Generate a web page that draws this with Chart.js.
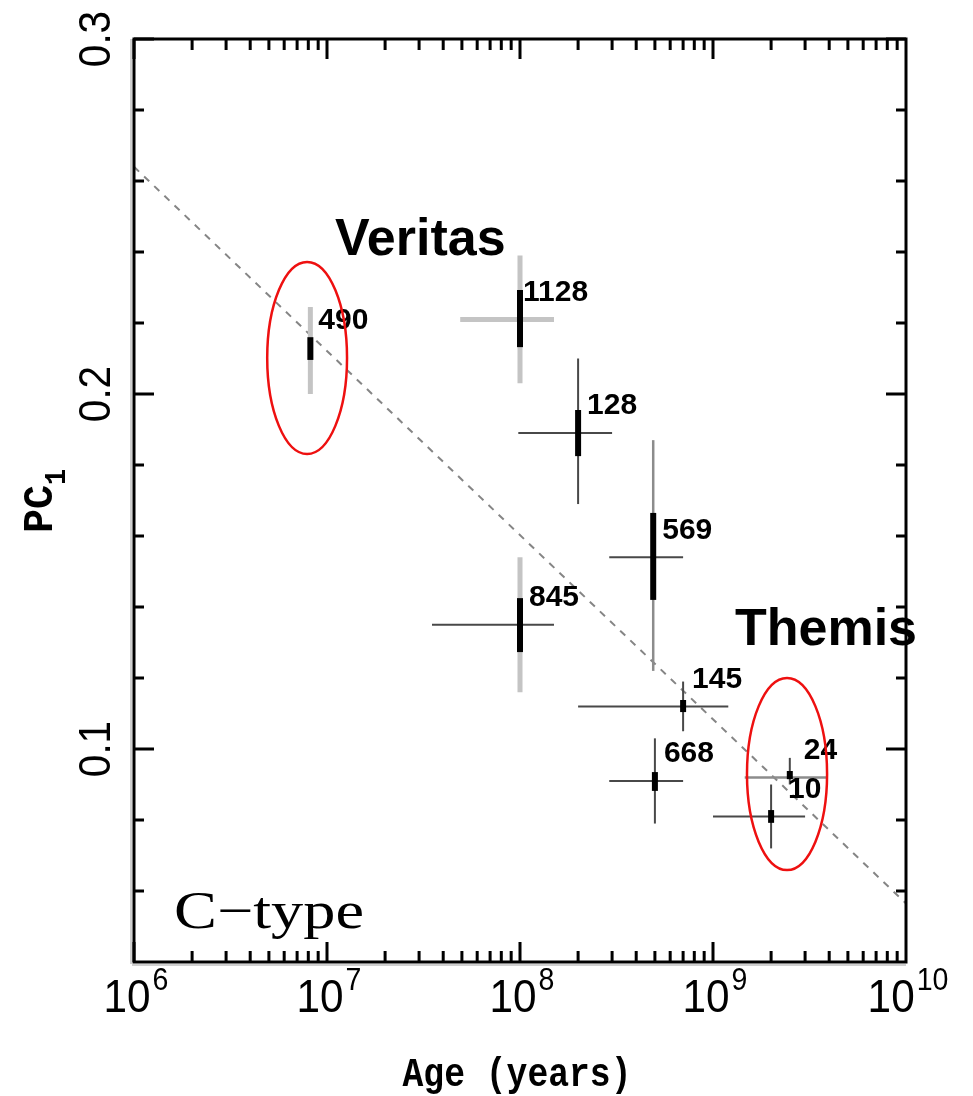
<!DOCTYPE html>
<html>
<head>
<meta charset="utf-8">
<script src="https://cdn.jsdelivr.net/npm/chart.js@4.4.0/dist/chart.umd.min.js"></script>
<style>
html,body{margin:0;padding:0;background:#fff;}
canvas{display:block;}
</style>
</head>
<body>
<canvas id="pc1-age" width="973" height="1096"></canvas>
<script>
// PC1 against family age for C-type asteroid families

const families   = ['490','1128','128','569','845','145','668','24','10'];
const ages       = [8.2e6, 1.0e8, 2.0e8, 4.9e8, 1.0e8, 7.0e8, 5.0e8, 2.5e9, 2.0e9];
const ageLow     = [null, 4.9e7, 9.8e7, 2.9e8, 3.5e7, 2.0e8, 2.9e8, 1.46e9, 1.0e9];
const ageHigh    = [null, 1.5e8, 3.0e8, 7.0e8, 1.5e8, 1.2e9, 7.0e8, 3.9e9, 3.0e9];
const pc1        = [0.213, 0.221, 0.189, 0.154, 0.135, 0.112, 0.091, 0.092, 0.081];
// thin bar = full spread, thick bar = error of the mean
const pc1Low     = [0.200, 0.203, 0.169, 0.122, 0.116, 0.105, 0.079, 0.090, 0.072];
const pc1High    = [0.2245, 0.239, 0.210, 0.187, 0.154, 0.119, 0.103, 0.0975, 0.090];
const pc1SigLow  = [0.2096, 0.2132, 0.1825, 0.142, 0.1273, 0.1104, 0.0882, 0.0915, 0.0792];
const pc1SigHigh = [0.216, 0.2293, 0.1955, 0.1665, 0.1425, 0.1138, 0.0935, 0.0938, 0.0828];

const fitAges = [1e6, 1e10];
const fitPc1  = [0.264, 0.0565];

const xTicks    = [1e6, 1e7, 1e8, 1e9, 1e10];
const xTickExp  = ['6','7','8','9','10'];
const yTicks    = [0.1, 0.2, 0.3];
const yTickText = ['0.1','0.2','0.3'];

// highlighted groups (red ellipses)
const groups       = ['Veritas','Themis'];
const groupAgeLow  = [4.9e6, 1.5e9];
const groupAgeHigh = [1.27e7, 3.9e9];
const groupPcLow   = [0.1831, 0.0659];
const groupPcHigh  = [0.2372, 0.120];
const groupTextAge = [1.1e7, 1.3e9];
const groupTextPc  = [0.2392, 0.1293];

// styles, kept apart from the values
const vStyle  = ['light','light','dark','mid','light','dark','dark','dark','dark'];
const hStyle  = [null,'light','dark','dark','dark','dark','dark','mid','dark'];
const labelDx = [8, 3, 9, 9, 9, 9, 9, 14, 17];
const barStyles = {
    light: {color:'#c4c4c4', width:5},
    mid:   {color:'#8c8c8c', width:2.5},
    dark:  {color:'#484848', width:2}
};

function fitText(ctx, txt, x, y, font, sx, align){
    ctx.save();
    ctx.font = font;
    ctx.textAlign = align || 'left';
    ctx.textBaseline = 'alphabetic';
    ctx.translate(x, y);
    ctx.scale(sx || 1, 1);
    ctx.fillText(txt, 0, 0);
    ctx.restore();
}

const errorBars = {
    id: 'errorBars',
    afterDatasetsDraw(chart){
        const ctx = chart.ctx, xs = chart.scales.x, ys = chart.scales.y;
        ctx.save();
        ctx.lineCap = 'butt';
        families.forEach((name, i)=>{
            const px = xs.getPixelForValue(ages[i]);
            const py = ys.getPixelForValue(pc1[i]);
            // horizontal age range
            if(hStyle[i]){
                const st = barStyles[hStyle[i]];
                ctx.strokeStyle = st.color; ctx.lineWidth = st.width;
                ctx.beginPath();
                ctx.moveTo(xs.getPixelForValue(ageLow[i]), py);
                ctx.lineTo(xs.getPixelForValue(ageHigh[i]), py);
                ctx.stroke();
            }
            // thin vertical range
            const vs = barStyles[vStyle[i]];
            ctx.strokeStyle = vs.color; ctx.lineWidth = vs.width;
            ctx.beginPath();
            ctx.moveTo(px, ys.getPixelForValue(pc1Low[i]));
            ctx.lineTo(px, ys.getPixelForValue(pc1High[i]));
            ctx.stroke();
            // thick black core
            ctx.strokeStyle = '#000'; ctx.lineWidth = 6;
            ctx.beginPath();
            ctx.moveTo(px, ys.getPixelForValue(pc1SigLow[i]));
            ctx.lineTo(px, ys.getPixelForValue(pc1SigHigh[i]));
            ctx.stroke();
            // family number
            ctx.fillStyle = '#000';
            ctx.font = 'bold 30px "Liberation Sans", Arial, sans-serif';
            ctx.textBaseline = 'middle';
            ctx.textAlign = 'left';
            ctx.fillText(name, px + labelDx[i], py - 27);
        });
        // red ellipses
        ctx.strokeStyle = '#ee1010'; ctx.lineWidth = 2.5;
        groups.forEach((g, i)=>{
            const x1 = xs.getPixelForValue(groupAgeLow[i]), x2 = xs.getPixelForValue(groupAgeHigh[i]);
            const y1 = ys.getPixelForValue(groupPcHigh[i]), y2 = ys.getPixelForValue(groupPcLow[i]);
            ctx.beginPath();
            ctx.ellipse((x1+x2)/2, (y1+y2)/2, (x2-x1)/2, (y2-y1)/2, 0, 0, Math.PI*2);
            ctx.stroke();
        });
        ctx.restore();
    }
};

const frameAndAxes = {
    id: 'frameAndAxes',
    afterDraw(chart){
        const ctx = chart.ctx, xs = chart.scales.x, ys = chart.scales.y;
        const a = chart.chartArea;
        ctx.save();

        // faint shadow next to the frame
        ctx.fillStyle = '#d0d0d0';
        ctx.fillRect(a.left - 4, a.top, 2, a.bottom - a.top + 2);
        ctx.fillRect(a.left - 2, a.bottom + 2, a.right - a.left + 2, 2);

        ctx.strokeStyle = '#000'; ctx.lineWidth = 3;
        ctx.strokeRect(a.left, a.top, a.right - a.left, a.bottom - a.top);

        ctx.fillStyle = '#000';
        // x ticks (log, with minors), bottom and top, pointing inward
        for(let e = 6; e < 10; e++){
            for(let k = 1; k < 10; k++){
                const v = k * Math.pow(10, e);
                const px = xs.getPixelForValue(v);
                const len = k === 1 ? 20 : 11;
                ctx.fillRect(px - 1.5, a.bottom - len, 3, len);
                ctx.fillRect(px - 1.5, a.top, 3, len);
            }
        }
        // y ticks every 0.02, majors every 0.1
        for(let j = 3; j <= 15; j++){
            const v = j * 0.02;
            const py = ys.getPixelForValue(v);
            const major = (j % 5 === 0);
            const len = major ? 20 : 10;
            ctx.fillRect(a.left, py - 1.5, len, 3);
            ctx.fillRect(a.right - len, py - 1.5, len, 3);
        }

        // x tick labels 10^n
        xTicks.forEach((v, i)=>{
            const px = xs.getPixelForValue(v);
            ctx.font = '47px "Liberation Sans", Arial, sans-serif';
            const wBase = ctx.measureText('10').width * 0.9;
            ctx.font = '31px "Liberation Sans", Arial, sans-serif';
            const wExp = ctx.measureText(xTickExp[i]).width * 0.92;
            const start = px + 2 - (wBase + 2 + wExp) / 2;
            fitText(ctx, '10', start, 1012, '47px "Liberation Sans", Arial, sans-serif', 0.9);
            fitText(ctx, xTickExp[i], start + wBase + 2, 990, '31px "Liberation Sans", Arial, sans-serif', 0.92);
        });

        // y tick labels, rotated
        yTicks.forEach((v, i)=>{
            const py = ys.getPixelForValue(v);
            ctx.save();
            ctx.translate(110, py);
            ctx.rotate(-Math.PI/2);
            fitText(ctx, yTickText[i], 0, 0, '44px "Liberation Sans", Arial, sans-serif', 0.92, 'center');
            ctx.restore();
        });

        // axis titles
        ctx.font = 'bold 40px "Liberation Mono", "Courier New", monospace';
        let w = ctx.measureText('Age (years)').width;
        fitText(ctx, 'Age (years)', 517, 1086, 'bold 40px "Liberation Mono", "Courier New", monospace', 229 / w, 'center');

        ctx.save();
        ctx.translate(52, 533);
        ctx.rotate(-Math.PI/2);
        ctx.font = 'bold 42px "Liberation Mono", "Courier New", monospace';
        w = ctx.measureText('PC').width;
        fitText(ctx, 'PC', 0, 0, 'bold 42px "Liberation Mono", "Courier New", monospace', 48 / w);
        fitText(ctx, '1', 48, 13, 'bold 30px "Liberation Mono", "Courier New", monospace', 0.9);
        ctx.restore();

        // panel tag
        ctx.font = '52px "Liberation Serif", "Times New Roman", serif';
        w = ctx.measureText('C\u2212type').width;
        fitText(ctx, 'C\u2212type', 174, 928, '52px "Liberation Serif", "Times New Roman", serif', 190 / w);

        // group names
        groups.forEach((g, i)=>{
            fitText(ctx, g, xs.getPixelForValue(groupTextAge[i]), ys.getPixelForValue(groupTextPc[i]),
                'bold 52px "Liberation Sans", Arial, sans-serif', 1);
        });

        ctx.restore();
    }
};

new Chart(document.getElementById('pc1-age'), {
    type: 'scatter',
    data: {
        datasets: [
            {
                type: 'line',
                label: 'fit',
                data: fitAges.map((x, i)=>({x: x, y: fitPc1[i]})),
                borderColor: '#858585',
                borderWidth: 2,
                borderDash: [7, 7],
                pointRadius: 0,
                fill: false
            },
            {
                label: 'families',
                data: ages.map((x, i)=>({x: x, y: pc1[i]})),
                pointRadius: 0,
                backgroundColor: '#000'
            }
        ]
    },
    options: {
        responsive: false,
        devicePixelRatio: 1,
        animation: false,
        layout: { padding: { left: 134, top: 39, right: 67, bottom: 134 } },
        plugins: { legend: { display: false }, tooltip: { enabled: false } },
        scales: {
            x: { type: 'logarithmic', min: 1e6, max: 1e10, display: false },
            y: { type: 'linear', min: 0.04, max: 0.3, display: false }
        }
    },
    plugins: [errorBars, frameAndAxes]
});
</script>
</body>
</html>
